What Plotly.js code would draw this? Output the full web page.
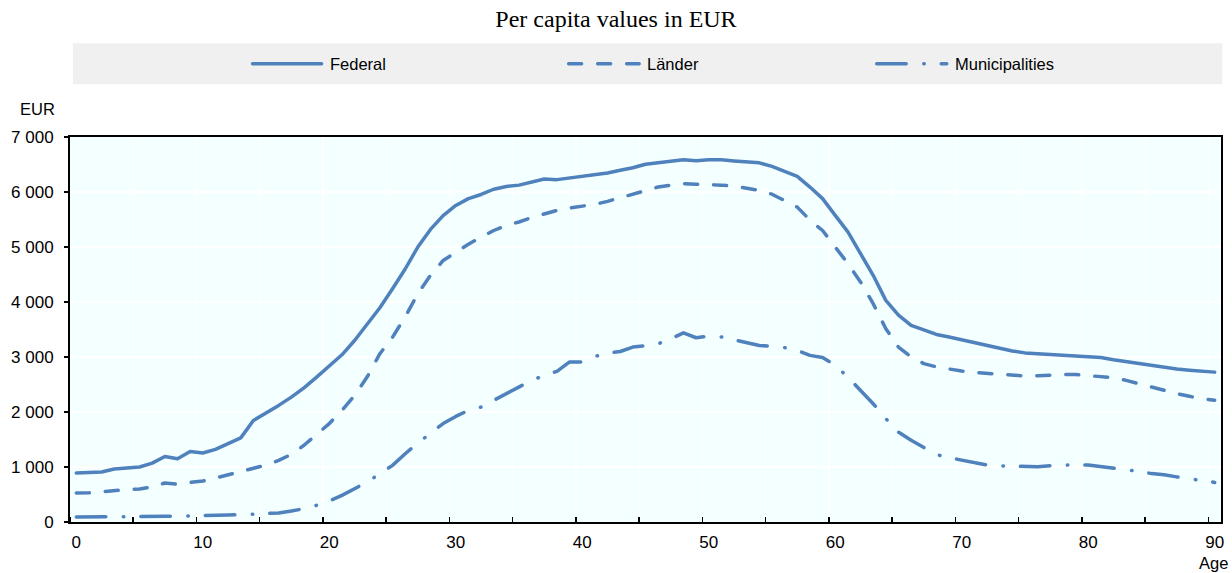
<!DOCTYPE html>
<html>
<head>
<meta charset="utf-8">
<script src="https://cdn.plot.ly/plotly-3.0.1.min.js"></script>
<style>
html,body{margin:0;padding:0;background:#fff;}
#chart{width:1232px;height:573px;}
.js-line{stroke-linecap:round;stroke-linejoin:round;}
.shapelayer path{stroke-linecap:round;}
</style>
</head>
<body>
<div id="chart"></div>
<script>
const ages = [0,1,2,3,4,5,6,7,8,9,10,11,12,13,14,15,16,17,18,19,20,21,22,23,24,25,26,27,28,29,30,31,32,33,34,35,36,37,38,39,40,41,42,43,44,45,46,47,48,49,50,51,52,53,54,55,56,57,58,59,60,61,62,63,64,65,66,67,68,69,70,71,72,73,74,75,76,77,78,79,80,81,82,83,84,85,86,87,88,89,90];

const federal = [890,900,908,965,982,1000,1070,1190,1150,1280,1255,1320,1425,1530,1845,1980,2120,2270,2440,2635,2830,3040,3300,3600,3895,4240,4600,5000,5320,5570,5755,5880,5955,6050,6100,6125,6175,6235,6225,6255,6275,6300,6345,6395,6440,6505,6540,6560,6585,6570,6585,6585,6565,6555,6530,6465,6380,6285,6090,5880,5575,5275,4880,4485,4030,3760,3575,3485,3410,3365,3315,3260,3210,3150,3110,3075,3060,3050,3040,3030,3010,2990,2950,2915,2880,2835,2805,2780,2760,2740,2725];

const laender = [527,530,550,576,590,600,636,709,685,720,745,800,860,910,970,1035,1120,1230,1395,1590,1790,2030,2300,2640,3060,3360,3730,4150,4485,4755,4910,5050,5180,5300,5395,5455,5535,5605,5665,5710,5740,5775,5830,5895,5970,6040,6090,6125,6150,6140,6140,6125,6105,6075,6030,5960,5850,5725,5490,5300,5000,4700,4365,3970,3515,3180,3000,2880,2820,2780,2745,2720,2700,2680,2660,2655,2660,2675,2680,2680,2665,2650,2625,2575,2515,2440,2380,2335,2285,2240,2215];

const municipalities = [90,90,90,92,95,95,100,104,106,108,110,120,127,133,140,152,165,200,242,303,382,485,600,727,880,1030,1240,1440,1610,1790,1920,2030,2090,2210,2320,2455,2575,2665,2740,2910,2910,3010,3070,3100,3180,3205,3240,3330,3440,3350,3380,3365,3315,3275,3210,3195,3170,3120,3030,2990,2850,2635,2395,2150,1880,1635,1485,1350,1225,1170,1120,1075,1035,1020,1010,1000,1005,1025,1035,1040,1035,1010,980,950,920,880,860,820,790,760,720];

const seriesNames = ['Federal', 'Länder', 'Municipalities'];
const xTickVals = [0,10,20,30,40,50,60,70,80,90];
const xTickText = ['0','10','20','30','40','50','60','70','80','90'];
const yTickVals = [0,1000,2000,3000,4000,5000,6000,7000];
const yTickText = ['0','1 000','2 000','3 000','4 000','5 000','6 000','7 000'];

const BLUE = '#4F81BD';
const LW = 3.5;
const DASH_L = '13px,16px';
const DASH_M = '29.5px,17.5px,0.5px,17px';
const FONT = 'Liberation Sans, Arial, sans-serif';

// plot area in pixels
const M = {l:70, r:11.3, t:136.7, b:51.3};
const W = 1232, H = 573;
const PW = W - M.l - M.r, PH = H - M.t - M.b;
const px = x => (x - M.l) / PW;
const py = y => (H - M.b - y) / PH;

const traces = [
  {x: ages, y: federal, name: seriesNames[0], type: 'scatter', mode: 'lines',
   line: {color: BLUE, width: LW}},
  {x: ages, y: laender, name: seriesNames[1], type: 'scatter', mode: 'lines',
   line: {color: BLUE, width: LW, dash: DASH_L}},
  {x: ages, y: municipalities, name: seriesNames[2], type: 'scatter', mode: 'lines',
   line: {color: BLUE, width: LW, dash: DASH_M}}
];

const legY = py(63.5);
const shapes = [
  {type:'rect', xref:'paper', yref:'paper', x0:px(73), x1:px(1222), y0:py(84), y1:py(43),
   fillcolor:'#F0F0F0', line:{width:0}, layer:'below'},
  {type:'line', xref:'paper', yref:'paper', x0:px(252.5), x1:px(321.5), y0:legY, y1:legY,
   line:{color:BLUE, width:LW}},
  {type:'line', xref:'paper', yref:'paper', x0:px(568.5), x1:px(639), y0:legY, y1:legY,
   line:{color:BLUE, width:LW, dash:DASH_L}},
  {type:'line', xref:'paper', yref:'paper', x0:px(876.5), x1:px(946.5), y0:legY, y1:legY,
   line:{color:BLUE, width:LW, dash:DASH_M}}
];

const annFont = {family: FONT, size: 16.5, color: '#000'};
const annotations = [
  {text: seriesNames[0], xref:'paper', yref:'paper', x:px(328), y:legY, xanchor:'left', yanchor:'middle', showarrow:false, font:annFont},
  {text: seriesNames[1], xref:'paper', yref:'paper', x:px(645), y:legY, xanchor:'left', yanchor:'middle', showarrow:false, font:annFont},
  {text: seriesNames[2], xref:'paper', yref:'paper', x:px(953), y:legY, xanchor:'left', yanchor:'middle', showarrow:false, font:annFont},
  {text: 'EUR', xref:'paper', yref:'paper', x:px(38), y:py(109), xanchor:'center', yanchor:'middle', showarrow:false, font:annFont},
  {text: 'Age', xref:'paper', yref:'paper', x:px(1213), y:py(563), xanchor:'center', yanchor:'middle', showarrow:false, font:annFont}
];

const layout = {
  width: W, height: H,
  margin: M,
  paper_bgcolor: '#FFFFFF',
  plot_bgcolor: '#F4FFFF',
  showlegend: false,
  title: {text: 'Per capita values in EUR', xref:'container', x:0.5, xanchor:'center',
          yref:'container', y: 1 - 19/H, yanchor:'middle',
          font: {family: 'Liberation Serif, Times New Roman, serif', size: 24, color: '#000'}},
  xaxis: {
    range: [-0.5, 90.5], tickmode: 'array', tickvals: xTickVals, ticktext: xTickText,
    ticks: '', showgrid: false, zeroline: false,
    showline: true, linecolor: '#000', linewidth: 2, mirror: true,
    tickfont: {family: FONT, size: 17, color: '#000'},
    ticklabelstandoff: 4,
    minor: {tickmode: 'linear', tick0: -0.5, dtick: 5, ticks: 'inside', ticklen: 5,
            tickcolor: '#000', tickwidth: 1.5, showgrid: true, gridcolor: '#FFFFFF', gridwidth: 1.2}
  },
  yaxis: {
    range: [0, 7000], tickmode: 'array', tickvals: yTickVals, ticktext: yTickText,
    ticks: 'outside', ticklen: 4, tickcolor: '#000', tickwidth: 1.5,
    showgrid: true, gridcolor: '#FFFFFF', gridwidth: 1.2, zeroline: false,
    showline: true, linecolor: '#000', linewidth: 2, mirror: true,
    tickfont: {family: FONT, size: 17, color: '#000'},
    ticklabelstandoff: 7
  },
  shapes: shapes,
  annotations: annotations
};

Plotly.newPlot('chart', traces, layout, {displayModeBar: false, staticPlot: true});
</script>
</body>
</html>
